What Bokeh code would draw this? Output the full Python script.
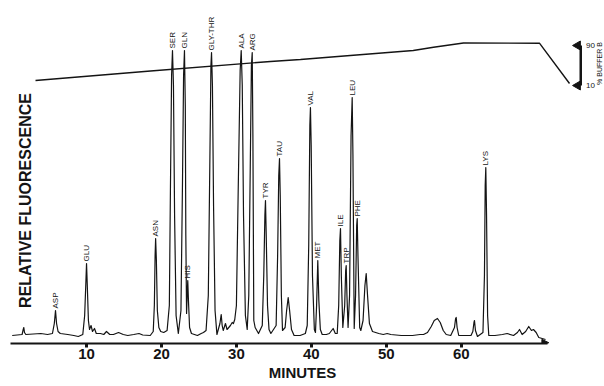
from math import pi
from bokeh.plotting import figure
from bokeh.models import Range1d, FixedTicker, Label, Arrow, NormalHead
from bokeh.core.properties import value
from bokeh.embed import file_html
from bokeh.resources import INLINE

# ---------------- data ----------------
# chromatogram trace: retention time (min) and relative fluorescence (arbitrary units)
times = [0.08, 1.4, 1.55, 1.63, 1.72, 1.9, 2.9, 3.9, 4.8, 5.45, 5.7, 5.86, 6.0, 6.2, 6.5, 7.5, 8.3, 8.9, 9.5,
         9.75, 9.92, 10.0, 10.1, 10.25, 10.4, 10.6, 10.8, 11.06, 11.3, 11.86, 12.3, 12.66, 13.1, 13.59, 14.27,
         14.9, 15.5, 16.3, 17.0, 17.5, 18.5, 18.9, 19.05, 19.15, 19.22, 19.32, 19.45, 19.65, 19.9, 20.3, 20.75,
         21.05, 21.2, 21.35, 21.47, 21.6, 21.75, 21.95, 22.25, 22.6, 22.8, 22.95, 23.07, 23.18, 23.25, 23.35,
         23.45, 23.51, 23.6, 23.75, 24.0, 24.8, 25.3, 25.6, 25.95, 26.25, 26.45, 26.6, 26.68, 26.8, 26.95, 27.15,
         27.4, 27.8, 27.97, 28.1, 28.24, 28.54, 28.75, 28.98, 29.2, 29.44, 29.6, 29.78, 30.0, 30.25, 30.5, 30.64,
         30.78, 30.95, 31.2, 31.44, 31.65, 31.85, 32.0, 32.11, 32.2, 32.32, 32.5, 32.95, 33.45, 33.65, 33.8,
         33.88, 33.98, 34.15, 34.35, 34.6, 35.3, 35.5, 35.65, 35.75, 35.85, 36.0, 36.15, 36.5, 36.7, 36.91, 37.1,
         37.35, 37.7, 38.5, 39.2, 39.45, 39.65, 39.8, 39.88, 39.98, 40.15, 40.4, 40.55, 40.7, 40.86, 41.0, 41.2,
         41.45, 42.0, 42.4, 42.91, 43.2, 43.45, 43.65, 43.8, 43.89, 44.0, 44.2, 44.45, 44.58, 44.65, 44.75, 44.9,
         45.1, 45.3, 45.45, 45.55, 45.72, 45.9, 46.05, 46.12, 46.22, 46.45, 46.6, 46.9, 47.15, 47.32, 47.5, 47.75,
         48.16, 49.0, 49.6, 50.12, 50.6, 52.0, 53.5, 54.5, 54.97, 55.5, 56.0, 56.4, 56.83, 57.2, 57.6, 58.0, 58.6,
         59.1, 59.25, 59.33, 59.45, 59.67, 60.5, 61.3, 61.55, 61.7, 61.77, 61.9, 62.17, 62.9, 63.1, 63.2, 63.28,
         63.38, 63.52, 63.68, 64.5, 65.5, 66.13, 66.98, 67.5, 67.78, 68.13, 68.6, 69.01, 69.37, 69.64, 70.0,
         70.35, 71.25]
signal = [0, 1, 6, 8, 3, 1, 1.5, 2, 1, 2, 12, 25, 12, 4, 2, 1, 0, -1, 1,
          20, 55, 72, 50, 15, 6, 10, 4, 7, 2, 2, 1, 4, 1, 1, 3,
          1, 0, 1, 2, 0.5, 0, 4, 30, 80, 97, 75, 25, 8, 4, 3, 5,
          30, 150, 260, 285, 250, 120, 20, 2, 25, 150, 260, 285, 230, 100, 22,
          45, 55, 35, 8, 2, 0, 2, 3, 5, 40, 170, 270, 283, 250, 130, 25,
          1, 12, 21, 10, 5, 12, 6, 8, 10, 13, 12, 16, 30, 150, 265, 285,
          250, 120, 20, 6, 40, 170, 270, 283, 200, 15, 8, 2, 10, 60, 120,
          135, 100, 30, 6, 2, 10, 80, 160, 177, 140, 40, 5, 8, 25, 38, 25,
          6, 0, 0, 2, 10, 90, 210, 228, 190, 60, 6, 3, 30, 75, 35, 6,
          1, 1, 2, 7, 2, 2, 30, 95, 107, 60, 8, 30, 65, 70, 40, 8,
          40, 200, 238, 180, 7, 40, 110, 117, 80, 8, 5, 15, 50, 62, 40, 12,
          4, 2, 1, 2, 1, 0, 0, 1, 1, 3, 9, 15, 17, 13, 5, 1, 0,
          8, 17, 18, 8, 0, 0, 0, 4, 13, 15, 5, -1, 3, 60, 150, 168,
          120, 20, 0, 0, 1, 2, 0, 3, 6, 1, 4, 9, 5, 6, 3,
          -2, -4]

# identified peaks: name, retention time, apex height
peak_names = ["ASP", "GLU", "ASN", "SER", "GLN", "HIS", "GLY-THR", "ALA", "ARG", "TYR", "TAU",
              "VAL", "MET", "ILE", "TRP", "LEU", "PHE", "LYS"]
peak_times = [5.86, 10.0, 19.22, 21.47, 23.07, 23.51, 26.68, 30.64, 32.11, 33.88, 35.75,
              39.88, 40.86, 43.89, 44.65, 45.45, 46.12, 63.28]
peak_heights = [25, 72, 97, 285, 285, 55, 283, 285, 283, 135, 177,
                228, 75, 107, 70, 238, 117, 168]

# solvent gradient (% buffer B) versus time
grad_times = [3.19, 18.54, 34.55, 38.55, 45.2, 53.6, 56.3, 60.3, 70.44, 74.45]
grad_pct = [20, 39, 58, 62, 70, 80, 86.6, 95, 94.6, 14]

# gradient scale bracket
scale_pct = [10, 90]
scale_labels = ["10", "90"]

# x-axis ticks
tick_minutes = [10, 20, 30, 40, 50, 60]

# ---------------- figure ----------------
p = figure(width=604, height=386, output_backend="svg", toolbar_location=None,
           x_range=Range1d(-1.481, 79.12), y_range=Range1d(-8, 335),
           y_axis_location=None, min_border_left=0, min_border_right=0,
           min_border_top=0, min_border_bottom=43)
p.extra_y_ranges = {"buf": Range1d(-506, 180)}
p.xgrid.visible = False
p.ygrid.visible = False
p.outline_line_color = None
p.background_fill_color = "white"
p.border_fill_color = "white"

ink = "#141414"

# x axis
ax = p.xaxis[0]
ax.ticker = FixedTicker(ticks=tick_minutes)
ax.bounds = (-0.15, 71.5)
ax.axis_line_width = 2.2
ax.axis_line_color = ink
ax.major_tick_out = 4
ax.major_tick_in = 0
ax.major_tick_line_width = 3
ax.major_tick_line_color = ink
ax.minor_tick_out = 0
ax.minor_tick_in = 0
ax.major_label_standoff = 1
ax.major_label_text_font = "Liberation Sans"
ax.major_label_text_font_style = "bold"
ax.major_label_text_font_size = "15px"
ax.major_label_text_color = ink
ax.axis_label = "MINUTES"
ax.axis_label_text_font = "Liberation Sans"
ax.axis_label_text_font_style = "bold"
ax.axis_label_text_font_size = "15px"
ax.axis_label_text_color = ink
ax.axis_label_standoff = 2

# axis arrow head at the end
p.add_layout(Arrow(x_start=71.0, y_start=-7.3, x_end=71.7, y_end=-7.3, line_alpha=0,
                   end=NormalHead(size=7, fill_color=ink, line_color=ink)))

# chromatogram trace
p.line(times, signal, line_color=ink, line_width=1.2, line_join="round")

# peak labels
p.text(x=peak_times, y=[h + 2 for h in peak_heights], text=peak_names, angle=pi / 2,
       text_align="left", text_baseline="middle", text_font=value("Liberation Sans"),
       text_font_size="8px", text_color=ink)

# gradient line
p.line(grad_times, grad_pct, y_range_name="buf", line_color=ink, line_width=1.4)

# % buffer B scale bracket
p.segment(x0=[75.95], y0=[scale_pct[0]], x1=[75.95], y1=[scale_pct[1]], y_range_name="buf",
          line_color=ink, line_width=2.5)
p.scatter(x=[75.55, 75.55], y=scale_pct, y_range_name="buf", marker="triangle", angle=pi / 2,
          size=9, fill_color=ink, line_color=ink)
p.text(x=[76.65, 76.65], y=scale_pct, text=scale_labels, y_range_name="buf",
       text_align="left", text_baseline="middle", text_font=value("Liberation Sans"),
       text_font_size="8px", text_color=ink)
p.text(x=[78.4], y=[54], text=["% BUFFER B"], y_range_name="buf", angle=pi / 2,
       text_align="center", text_baseline="middle", text_font=value("Liberation Sans"),
       text_font_size="7px", text_color=ink)

# y-axis title
p.add_layout(Label(x=1.85, y=135, text="RELATIVE FLUORESCENCE", angle=pi / 2,
                   text_align="center", text_baseline="middle", text_font="Liberation Sans",
                   text_font_style="bold", text_font_size="16px", text_color=ink))

open("out.html", "w").write(file_html(p, INLINE))
